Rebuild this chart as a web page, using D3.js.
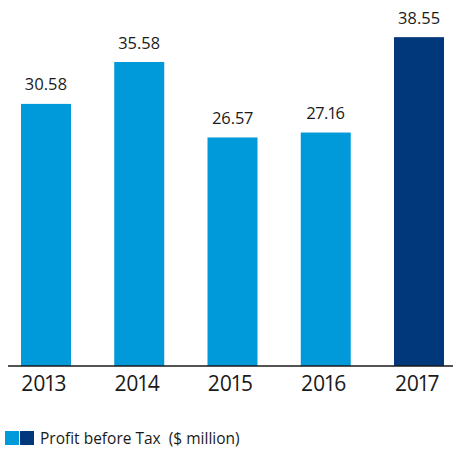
<!DOCTYPE html>
<html>
<head>
<meta charset="utf-8">
<script src="https://cdn.jsdelivr.net/npm/d3@7"></script>
<style>
  html, body { margin: 0; padding: 0; background: #ffffff; }
  svg { display: block; }
  text { font-family: "Open Sans", "Noto Sans", sans-serif; fill: #1a1a1a; font-variant-numeric: proportional-nums; }
</style>
</head>
<body>
<svg id="chart" width="453" height="451"></svg>
<script>
// Profit before tax, $ million
const years = ["2013", "2014", "2015", "2016", "2017"];
const profit = [30.58, 35.58, 26.57, 27.16, 38.55];
const barColors = ["#0099d9", "#0099d9", "#0099d9", "#0099d9", "#00387b"];
const legendLabel = "Profit before Tax  ($ million)";
const legendSwatches = ["#0099d9", "#00387b"];

const W = 453, H = 451;
const axisY = 366;

const svg = d3.select("#chart");

const x = d3.scaleBand()
  .domain(years)
  .range([21, 444])
  .paddingInner(0.464)
  .paddingOuter(0);

const y = d3.scaleLinear()
  .domain([0, 40])
  .range([360, 25]);

const data = years.map((yr, i) => ({ year: yr, value: profit[i], color: barColors[i] }));

// bars, running down to the baseline rule
svg.append("g")
  .selectAll("rect")
  .data(data)
  .join("rect")
  .attr("x", d => x(d.year))
  .attr("width", x.bandwidth())
  .attr("y", d => y(d.value))
  .attr("height", d => axisY - y(d.value))
  .attr("fill", d => d.color);

// value labels above each bar
svg.append("g")
  .selectAll("text")
  .data(data)
  .join("text")
  .attr("x", d => x(d.year) + x.bandwidth() / 2)
  .attr("y", d => y(d.value) - 13.5)
  .attr("text-anchor", "middle")
  .style("font-size", "16.5px")
  .text(d => d.value.toFixed(2));

// baseline rule
svg.append("line")
  .attr("x1", 8).attr("x2", W)
  .attr("y1", axisY).attr("y2", axisY)
  .attr("stroke", "#1a1a1a")
  .attr("stroke-width", 1.5);

// category axis labels
const xAxis = d3.axisBottom(x).tickSize(0).tickPadding(0);
const gx = svg.append("g")
  .attr("transform", `translate(0,${axisY})`)
  .call(xAxis);
gx.select(".domain").remove();
gx.selectAll("text")
  .attr("dy", null)
  .attr("y", 25)
  .attr("x", -2)
  .style("font-size", "21px")
  .style("font-family", null)
  .attr("fill", "#1a1a1a");

// legend
const lg = svg.append("g").attr("transform", "translate(5,431)");
lg.selectAll("rect")
  .data(legendSwatches)
  .join("rect")
  .attr("x", (d, i) => i * 15)
  .attr("y", 0)
  .attr("width", 14)
  .attr("height", 14)
  .attr("fill", d => d);
lg.append("text")
  .attr("x", 35)
  .attr("y", 12.5)
  .style("font-size", "15.5px")
  .style("white-space", "pre")
  .text(legendLabel);
</script>
</body>
</html>
